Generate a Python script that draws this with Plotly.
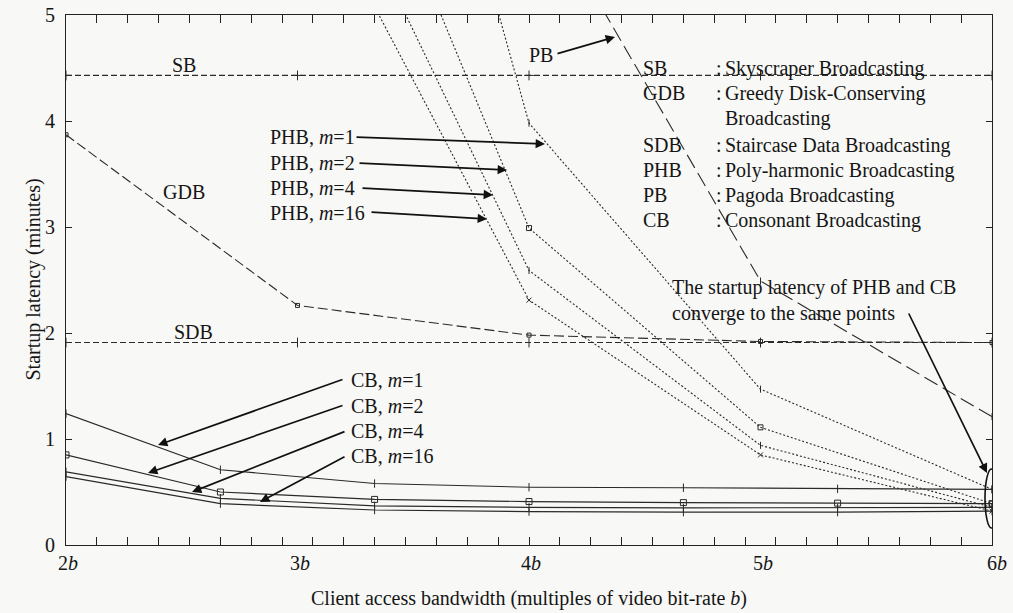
import plotly.graph_objects as go

# ---------------- data ----------------
x_cb = [2.0, 2.667, 3.333, 4.0, 4.667, 5.333, 6.0]
cb_m1 = [1.24, 0.71, 0.58, 0.545, 0.54, 0.53, 0.525]
cb_m2 = [0.85, 0.50, 0.43, 0.41, 0.40, 0.395, 0.39]
cb_m4 = [0.69, 0.44, 0.37, 0.355, 0.35, 0.35, 0.355]
cb_m16 = [0.645, 0.39, 0.33, 0.315, 0.31, 0.31, 0.32]

x_phb = [3.0, 4.0, 5.0, 6.0]
phb_m1 = [11.84, 3.98, 1.47, 0.525]
phb_m2 = [8.28, 2.99, 1.11, 0.39]
phb_m4 = [7.12, 2.59, 0.94, 0.355]
phb_m16 = [6.46, 2.31, 0.85, 0.32]

x_sched = [2.0, 3.0, 4.0, 5.0, 6.0]
sb = [4.43, 4.43, 4.43, 4.43, 4.43]
gdb = [3.87, 2.26, 1.98, 1.92, 1.91]
sdb = [1.91, 1.91, 1.91, 1.91, 1.91]

x_pb = [4.0, 5.0, 6.0]
pb = [6.25, 2.49, 1.21]

x_tick_vals = [2, 3, 4, 5, 6]
x_tick_text = ["2<i>b</i>", "3<i>b</i>", "4<i>b</i>", "5<i>b</i>", "6<i>b</i>"]
y_tick_vals = [0, 1, 2, 3, 4, 5]

legend_abbr = ["SB", "GDB", "", "SDB", "PHB", "PB", "CB"]
legend_desc = ["Skyscraper Broadcasting", "Greedy Disk-Conserving", "Broadcasting",
               "Staircase Data Broadcasting", "Poly-harmonic Broadcasting",
               "Pagoda Broadcasting", "Consonant Broadcasting"]

phb_labels = ["PHB, <i>m</i>=1", "PHB, <i>m</i>=2", "PHB, <i>m</i>=4", "PHB, <i>m</i>=16"]
cb_labels = ["CB, <i>m</i>=1", "CB, <i>m</i>=2", "CB, <i>m</i>=4", "CB, <i>m</i>=16"]

# ---------------- style ----------------
FONT = "Liberation Serif, Times New Roman, serif"
FS = 20
INK = "#151515"
LINE = "#2a2a2a"
BG = "#f8f8f6"

# pixel -> data helpers for annotation placement (plot area 66..992 x 15..545)
def dx(px):
    return 2 + (px - 66) / 231.5

def dy(py):
    return (545 - py) / 106.0

def px_paper(px):
    return (px - 66) / 926.0

fig = go.Figure()

def add(x, y, dash, symbol, size=6, width=1.1):
    fig.add_trace(go.Scatter(
        x=x, y=y, mode="lines+markers",
        line=dict(color=LINE, width=width, dash=dash),
        marker=dict(symbol=symbol, size=size, color=LINE,
                    line=dict(color=LINE, width=1)),
        showlegend=False, hoverinfo="skip"))

add(x_sched, sb, "6px,3px", "cross-thin-open", 7)
add(x_sched, sdb, "6px,3px", "line-ns-open", 7)
add(x_sched, gdb, "10px,4px", "square-open", 4)
add(x_pb, pb, "15px,6px", "line-ns-open", 5)
for ys, sym in zip([phb_m1, phb_m2, phb_m4, phb_m16],
                   ["line-ns-open", "square-open", "line-ns-open", "x-thin-open"]):
    add(x_phb, ys, "2px,2px", sym, 5, 1.1)
for ys, sym in zip([cb_m1, cb_m2, cb_m4, cb_m16],
                   ["line-ns-open", "square-open", "line-ns-open", "line-ns-open"]):
    add(x_cb, ys, "solid", sym, 6, 1.2)

ann = []
txt = dict(font=dict(family=FONT, size=FS, color=INK), showarrow=False)

def arrow(tx, ty, hx, hy):
    ann.append(dict(x=dx(hx), y=dy(hy), ax=dx(tx), ay=dy(ty), xref="x", yref="y",
                    axref="x", ayref="y", text="", showarrow=True,
                    arrowhead=2, arrowsize=1.1, arrowwidth=1.7, arrowcolor="#111"))

# curve labels
ann.append(dict(x=dx(184), y=dy(65), text="SB", **txt))
ann.append(dict(x=dx(184), y=dy(192), text="GDB", **txt))
ann.append(dict(x=dx(193), y=dy(332), text="SDB", **txt))
ann.append(dict(x=dx(541), y=dy(55), text="PB", **txt))
arrow(556, 54, 615, 37)

phb_rows = [137, 163, 188, 213]
phb_tails = [(355, 137), (358, 163), (361, 188), (370, 212)]
phb_heads = [(545, 144), (507, 170), (493, 195), (487, 219)]
for lab, yr, t, h in zip(phb_labels, phb_rows, phb_tails, phb_heads):
    ann.append(dict(x=dx(268), y=dy(yr), xanchor="left", text=lab, **txt))
    arrow(t[0], t[1], h[0], h[1])

cb_rows = [380, 406, 431, 456]
cb_tails = [(344, 379), (344, 405), (346, 431), (346, 456)]
cb_heads = [(158, 445), (148, 473), (192, 492), (260, 502)]
for lab, yr, t, h in zip(cb_labels, cb_rows, cb_tails, cb_heads):
    ann.append(dict(x=dx(349), y=dy(yr), xanchor="left", text=lab, **txt))
    arrow(t[0], t[1], h[0], h[1])

# legend block
legend_rows = [68, 93, 118, 145, 170, 195, 220]
for ab, de, yr in zip(legend_abbr, legend_desc, legend_rows):
    if ab:
        ann.append(dict(x=dx(641), y=dy(yr), xanchor="left", text=ab, **txt))
        ann.append(dict(x=dx(714), y=dy(yr), xanchor="left", text=":", **txt))
    ann.append(dict(x=dx(723), y=dy(yr), xanchor="left", text=de, **txt))

ann.append(dict(x=dx(670), y=dy(300), xanchor="left", align="left",
                text="The startup latency of PHB and CB<br>converge to the same points", **txt))
arrow(908, 312, 987, 473)

# x tick labels
for v, t in zip(x_tick_vals, x_tick_text):
    ann.append(dict(x=v, y=0, xref="x", yref="paper", yanchor="middle",
                    xshift=5 if v == 6 else 2, yshift=-18, text=t, **txt))

# axis titles
ann.append(dict(x=0.5, y=0, xref="paper", yref="paper", yanchor="middle", yshift=-53,
                text="Client access bandwidth (multiples of video bit-rate <i>b</i>)", **txt))
ann.append(dict(x=px_paper(19), y=0.5, xref="paper", yref="paper", textangle=-90,
                text="Startup latency (minutes)", **txt))

fig.add_shape(type="circle", xref="x", yref="y",
              x0=dx(985), x1=dx(998), y0=dy(528), y1=dy(469),
              line=dict(color="#111", width=1.6))

minor_x = [2 + k * 2 / 15 for k in range(31)]

fig.update_layout(
    width=1013, height=613,
    margin=dict(l=66, r=21, t=15, b=68),
    paper_bgcolor=BG, plot_bgcolor=BG,
    font=dict(family=FONT, size=FS, color=INK),
    annotations=ann,
    xaxis=dict(range=[2, 6], tickmode="array", tickvals=minor_x,
               ticktext=["" for _ in minor_x], ticks="inside", ticklen=8,
               tickcolor="#222", showline=True, linecolor="#222", linewidth=1.2,
               mirror="ticks", showgrid=False, zeroline=False, automargin=False),
    yaxis=dict(range=[0, 5], tickmode="array", tickvals=y_tick_vals,
               ticks="inside", ticklen=6, tickcolor="#222", showline=True,
               linecolor="#222", linewidth=1.2, mirror="ticks", showgrid=False,
               zeroline=False, ticklabelstandoff=6, automargin=False,
               tickfont=dict(family=FONT, size=FS, color=INK)),
)

fig.write_html("out.html", config={"displayModeBar": False},
               post_script="document.body.style.margin='0';")
